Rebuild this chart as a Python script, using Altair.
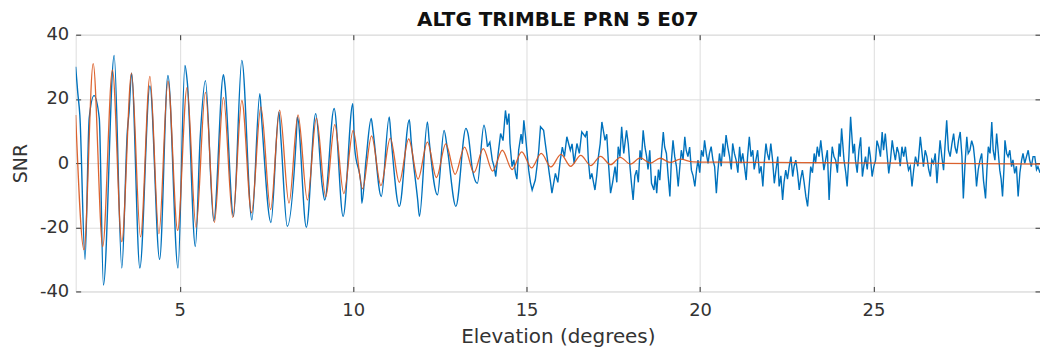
import altair as alt
import pandas as pd

# Blue measured SNR, low-elevation part (smooth oscillation), elevation in degrees
blue_early_x = [
    2.00, 2.06, 2.12, 2.27, 2.39, 2.53, 2.68, 2.80, 3.11, 3.33, 3.49, 3.54, 3.61, 3.85,
    4.14, 4.42, 4.66, 4.95, 5.15, 5.22, 5.45, 5.59, 5.74, 5.98, 6.26, 6.30, 6.55, 6.79,
    7.08, 7.31, 7.36, 7.63, 7.86, 7.92, 8.10, 8.36, 8.39, 8.65, 8.92, 9.11, 9.18, 9.45,
    9.71, 9.99, 10.04, 10.23, 10.25, 10.37, 10.52, 10.57, 10.81, 11.04, 11.09, 11.33,
    11.62, 11.67, 11.86, 11.91, 12.14, 12.19, 12.43, 12.62, 12.72, 12.96, 13.25, 13.31,
    13.44, 13.58, 13.77, 13.87,
]
blue_early_y = [
    30, 22, 15, -30, 14, 21, 14, -38, 33.5, -32.7, 10, 16, 28, -32.7,
    24, -30, 27.3, -32.7, 30.4, 25, -26, 8, 25.7, -18, 27.5, 24.7, -16.6, 32,
    -17.7, 21.6, 13.9, -18.5, 15.9, 7.1, -19.7, 8.2, 14.4, -20, 15.4, -7.3, -11.5, 17,
    -16.6, 18.5, 5.1, -7.3, -12.5, 0.9, 13.9, 10.2, -10.4, 14.4, 8.2, -13.5,
    13.5, 7.1, -11.5, -16.6, 12.8, 7.1, -9.9, 10.2, 4.0, -13.5, 10.8, 9.2,
    -2.2, -6.3, 11.8, 5.1,
]

# Blue measured SNR, higher-elevation part (noisy)
blue_late_x = [
    13.87, 13.94, 14.01, 14.06, 14.11, 14.18, 14.25, 14.32, 14.39, 14.44, 14.49, 14.52,
    14.58, 14.63, 14.68, 14.72, 14.77, 14.84, 14.88, 14.92, 14.97, 15.06, 15.11, 15.16,
    15.25, 15.30, 15.35, 15.40, 15.49, 15.54, 15.59, 15.65, 15.69, 15.73, 15.83, 15.90,
    15.97, 16.03, 16.09, 16.16, 16.26, 16.31, 16.37, 16.45, 16.52, 16.59, 16.69, 16.74,
    16.78, 16.83, 16.88, 16.97, 17.02, 17.07, 17.12, 17.17, 17.26, 17.31, 17.36, 17.42,
    17.48, 17.55, 17.60, 17.64, 17.69, 17.74, 17.80, 17.88, 17.93, 17.98, 18.02, 18.07,
    18.12, 18.17, 18.22, 18.27, 18.31, 18.36, 18.41, 18.46, 18.50, 18.55, 18.60, 18.67,
    18.71, 18.75, 18.80, 18.84, 18.89, 18.94, 18.98, 19.03, 19.08, 19.13, 19.17, 19.22,
    19.27, 19.32, 19.37, 19.41, 19.46, 19.51, 19.56, 19.60, 19.65, 19.70, 19.75, 19.80,
    19.85, 19.90, 19.94, 19.99, 20.04, 20.09, 20.13, 20.18, 20.23, 20.27, 20.32, 20.37,
    20.42, 20.47, 20.51, 20.56, 20.61, 20.66, 20.70, 20.75, 20.80, 20.85, 20.90, 20.94,
    20.99, 21.04, 21.09, 21.14, 21.18, 21.23, 21.28, 21.33, 21.37, 21.42, 21.47, 21.52,
    21.56, 21.61, 21.66, 21.71, 21.76, 21.81, 21.85, 21.90, 21.94, 21.99, 22.04, 22.09,
    22.14, 22.19, 22.24, 22.28, 22.33, 22.38, 22.42, 22.47, 22.52, 22.57, 22.62, 22.67,
    22.71, 22.76, 22.81, 22.86, 22.90, 22.95, 23.00, 23.05, 23.10, 23.14, 23.19, 23.24,
    23.29, 23.33, 23.38, 23.43, 23.48, 23.52, 23.57, 23.62, 23.67, 23.72, 23.76, 23.81,
    23.86, 23.91, 23.96, 24.01, 24.04, 24.08, 24.15, 24.20, 24.24, 24.29, 24.34, 24.41,
    24.45, 24.48, 24.53, 24.58, 24.63, 24.68, 24.72, 24.77, 24.82, 24.87, 24.91, 24.96,
    25.01, 25.06, 25.10, 25.15, 25.20, 25.25, 25.29, 25.34, 25.39, 25.44, 25.49, 25.54,
    25.58, 25.63, 25.68, 25.73, 25.77, 25.82, 25.87, 25.92, 25.96, 26.01, 26.06, 26.11,
    26.16, 26.21, 26.28, 26.35, 26.40, 26.44, 26.49, 26.54, 26.59, 26.64, 26.68, 26.73,
    26.78, 26.83, 26.87, 26.92, 26.97, 27.02, 27.06, 27.11, 27.16, 27.21, 27.26, 27.31,
    27.35, 27.40, 27.45, 27.50, 27.55, 27.59, 27.64, 27.69, 27.73, 27.78, 27.83, 27.88,
    27.92, 27.97, 28.02, 28.07, 28.12, 28.17, 28.23, 28.27, 28.31, 28.36, 28.41, 28.45,
    28.50, 28.55, 28.60, 28.64, 28.68, 28.72, 28.76, 28.79, 28.84, 28.88, 28.93, 28.98,
    29.02, 29.07, 29.12, 29.17, 29.22, 29.27, 29.31, 29.36, 29.41, 29.46, 29.50, 29.55,
    29.60, 29.65, 29.70, 29.74, 29.80,
]
blue_late_y = [
    5.1, 6.5, 0.9, -1.0, -4.2, 3.0, 9.2, 7.0, 16.4, 12.0, 15.4, 6.1,
    -1.1, 1.0, -3.2, -5.0, 4.0, 9.0, 6.0, 13.3, 8.2, -2.2, -6.0, -8.4,
    -5.3, -1.0, 4.0, 11.3, 10.2, 6.0, 2.0, -3.0, -6.0, -9.4, -3.2, -6.0,
    0.9, 5.0, 2.0, 8.2, 4.0, 6.0, -0.1, 6.1, 3.0, 9.7, 8.2, 10.0,
    0.9, -5.0, -3.2, -8.4, -4.0, 2.0, 6.0, 12.8, 7.1, 9.0, -0.1, -9.4,
    -6.0, -1.1, -6.0, 5.1, 2.0, 11.3, 3.0, 10.2, 6.0, -1.1, -6.0, -11.5,
    -4.0, -2.2, -6.0, 4.0, 1.0, 10.2, 5.1, 2.0, -2.0, 4.0, -6.3, -8.4,
    -4.0, -9.4, -2.0, -5.3, 3.0, 9.7, 5.0, 3.0, -4.0, -10.4, 0.0, 7.1,
    2.0, -1.1, -7.3, -2.0, 4.0, 1.0, 8.2, 4.0, 2.0, 5.0, -2.2, -4.0,
    -7.3, -2.0, 0.9, -3.0, 4.0, 2.0, 7.1, 3.0, -0.1, 3.0, 5.1, 1.0,
    -1.1, -9.4, -3.0, 3.0, -1.0, 6.1, 2.0, 8.7, 5.0, 2.0, -2.0, 6.1,
    3.0, 0.9, -3.0, 5.1, 0.0, 3.0, -1.0, -5.3, 2.0, 8.2, 2.0, 4.0,
    -2.0, 0.9, 4.0, -3.2, -1.0, -7.3, 0.0, 6.1, 3.0, 0.9, 6.1, 1.0,
    -6.3, -2.0, 2.0, -7.3, -4.0, -11.5, -6.0, -2.2, -5.0, -1.1, 2.0, -4.2,
    -1.0, 0.9, -3.0, -8.4, -5.0, -2.2, -6.0, -10.4, -13.5, -8.0, -1.1, -3.0,
    3.0, 0.0, 5.1, 2.0, 7.1, 3.0, -2.2, 1.0, 4.0, -11.5, -3.0, 5.1,
    2.0, 0.9, -3.0, 6.1, 2.0, 10.8, 0.9, -3.0, -7.3, 2.0, 14.4, 3.0,
    6.0, 0.9, -3.0, 4.0, 8.0, -4.2, -1.0, 2.0, -2.0, 5.1, 2.0, -4.2,
    -1.0, 0.9, 7.0, 5.1, 2.0, 9.7, 4.0, 9.2, 3.0, -3.2, 1.0, 7.1,
    4.0, 0.9, 5.0, 3.0, -1.0, 5.1, 2.0, 5.1, 1.0, -2.2, -1.0, -7.3,
    -2.0, 2.0, -1.0, 8.2, 3.0, -1.1, 4.0, 2.0, -2.0, -4.2, 1.0, -0.1,
    3.0, -6.3, 0.0, 7.1, 2.0, -2.2, 5.0, 13.3, 4.0, 2.0, 6.0, 9.2,
    5.0, 3.0, 7.0, 9.7, 2.0, -11.0, 0.0, 8.2, 3.0, 4.0, 7.0, 5.1,
    1.0, -7.3, -2.0, 0.9, 3.0, -5.3, -11.0, -2.0, 5.1, 3.0, 12.8, 4.0,
    0.9, 9.2, 3.0, -2.2, -5.0, -10.4, -2.0, 7.1, 3.0, 2.0, 4.0, -1.1,
    1.0, -3.2, -1.0, -10.4, -3.0, 0.9, 3.0, -0.1, 2.0, 4.0, 1.0, -1.1,
    2.0, 2.0, -2.0, -1.1, -3.0,
]

# Red fitted model (peaks and troughs of the damped oscillation)
red_x = [
    2.00, 2.24, 2.505, 2.78, 3.06, 3.33, 3.61, 3.87, 4.14, 4.40, 4.66, 4.94, 5.21, 5.47,
    5.74, 6.00, 6.26, 6.53, 6.79, 7.07, 7.34, 7.62, 7.88, 8.15, 8.41, 8.68, 8.94, 9.21,
    9.47, 9.73, 10.00, 10.27, 10.53, 10.80, 11.07, 11.33, 11.60, 11.87, 12.14, 12.40,
    12.67, 12.94, 13.21, 13.48, 13.75, 14.02, 14.30, 14.58, 14.86, 15.14, 15.42, 15.70,
    15.99, 16.27, 16.56, 16.85, 17.13, 17.42, 17.70, 17.99, 18.28, 18.56, 18.85, 19.14,
    19.43, 19.80, 20.50, 22.00, 24.00, 26.00, 28.00, 29.80,
]
red_y = [
    15, -27, 31, -26, 29, -24.5, 28, -23, 27, -22, 25.5, -21, 23.5, -20,
    22, -18.5, 20.5, -17, 19.5, -15.5, 17.5, -14.5, 16.5, -12.5, 15, -11.5, 14, -10.5,
    12, -9.5, 10.2, -8, 8.5, -7, 7.8, -6, 7.5, -5, 6.5, -4.5,
    6, -3.5, 5, -3, 4.5, -2.5, 4, -2, 3.5, -1.5, 3, -1.2,
    2.7, -1, 2.4, -0.8, 2.1, -0.5, 1.8, -0.3, 1.6, 0, 1.5, 0.2,
    1.2, 0.4, 0.3, 0.2, 0.1, 0, -0.2, -0.3,
]

x_ticks = [5, 10, 15, 20, 25]
y_ticks = [-40, -20, 0, 20, 40]

blue_early_df = pd.DataFrame({"elev": blue_early_x, "snr": blue_early_y})
blue_late_df = pd.DataFrame({"elev": blue_late_x, "snr": blue_late_y})
red_df = pd.DataFrame({"elev": red_x, "snr": red_y})

FONT = "DejaVu Sans"
TEXT = "#333333"
TICK = "#333333"

x_scale = alt.Scale(domain=[2, 29.8], nice=False, zero=False)
y_scale = alt.Scale(domain=[-40, 40], nice=False)

x_main = alt.X(
    "elev:Q", scale=x_scale,
    axis=alt.Axis(
        values=x_ticks, title="Elevation (degrees)", grid=True, ticks=False,
        domain=False, labelPadding=10, labelFontSize=18, labelColor=TEXT,
        labelFont=FONT, labelExpr="'' + datum.value",
        titleFont=FONT, titleFontSize=20, titleFontWeight="normal",
        titleColor=TEXT, titleBaseline="alphabetic", titleY=51,
    ),
)
y_main = alt.Y(
    "snr:Q", scale=y_scale,
    axis=alt.Axis(
        values=y_ticks, title="SNR", grid=True, ticks=False, domain=False,
        labelPadding=7, labelFontSize=18, labelColor=TEXT, labelFont=FONT,
        labelExpr="'' + datum.value",
        titleFont=FONT, titleFontSize=19, titleFontWeight="normal", titleColor=TEXT,
        titleAngle=270, titleBaseline="alphabetic", titleAlign="center",
        titleX=-49, titleY=129,
    ),
)
x_plain = alt.X("elev:Q", scale=x_scale, axis=None)
y_plain = alt.Y("snr:Q", scale=y_scale, axis=None)


def inner_ticks(orient, values):
    return alt.Axis(
        orient=orient, values=values, labels=False, grid=False, domain=False,
        ticks=True, tickSize=5, offset=-5, tickColor=TICK, tickWidth=1, title=None,
    )


BLUE = "#0072BD"
blue_early = alt.Chart(blue_early_df).mark_line(
    color=BLUE, strokeWidth=1.4, interpolate="monotone", clip=True
).encode(x=x_main, y=y_main)

blue_late = alt.Chart(blue_late_df).mark_line(
    color=BLUE, strokeWidth=1.4, clip=True
).encode(x=x_plain, y=y_plain)

red = alt.Chart(red_df).mark_line(
    color="#D95319", strokeWidth=1.3, interpolate="monotone", clip=True, opacity=0.9
).encode(x=x_plain, y=y_plain)

ticks_tr = alt.Chart(red_df).mark_point(opacity=0).encode(
    x=alt.X("elev:Q", scale=x_scale, axis=inner_ticks("top", x_ticks)),
    y=alt.Y("snr:Q", scale=y_scale, axis=inner_ticks("right", y_ticks)),
)
ticks_bl = alt.Chart(red_df).mark_point(opacity=0).encode(
    x=alt.X("elev:Q", scale=x_scale, axis=inner_ticks("bottom", x_ticks)),
    y=alt.Y("snr:Q", scale=y_scale, axis=inner_ticks("left", y_ticks)),
)

chart = (
    alt.layer(blue_early, blue_late, red, ticks_tr, ticks_bl)
    .resolve_axis(x="independent", y="independent")
    .properties(
        width=969,
        height=258,
        autosize=alt.AutoSizeParams(type="none"),
        padding={"left": 68, "top": 26, "right": 0, "bottom": 56},
        title=alt.TitleParams(
            "ALTG TRIMBLE PRN 5 E07", font=FONT, fontSize=20, fontWeight="bold",
            color="#111111", anchor="middle", offset=-4,
        ),
    )
    .configure_view(stroke="#3c3c3c", strokeWidth=1)
    .configure_axis(gridColor="#bdbdbd", gridWidth=1, gridOpacity=1)
    .configure(background="white")
)

chart.save("out.html", embed_options={"renderer": "svg", "actions": False})
